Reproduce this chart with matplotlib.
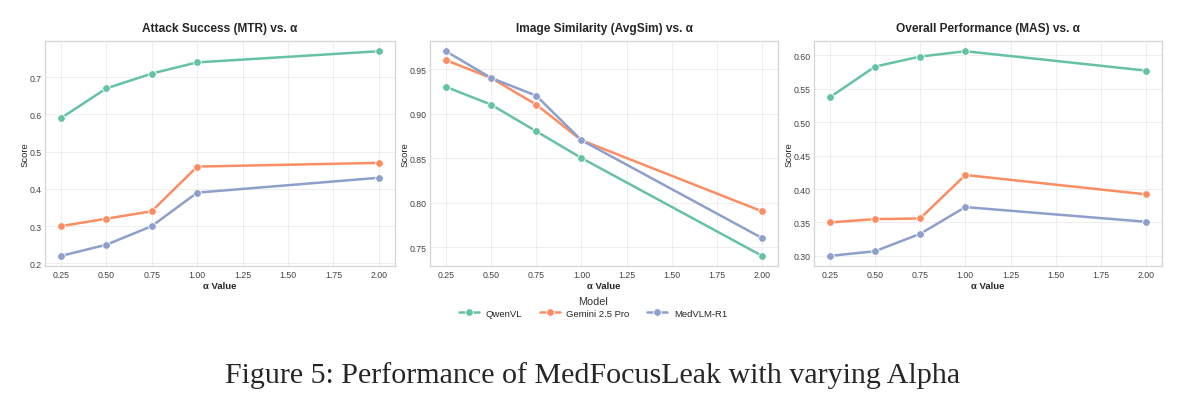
import matplotlib
matplotlib.use('Agg')
import matplotlib.pyplot as plt
import seaborn as sns

alphas = [0.25, 0.5, 0.75, 1.0, 2.0]
models = ['QwenVL', 'Gemini 2.5 Pro', 'MedVLM-R1']

# attack success (MTR)
mtr_qwen = [0.59, 0.67, 0.71, 0.74, 0.77]
mtr_gemini = [0.30, 0.32, 0.34, 0.46, 0.47]
mtr_medvlm = [0.22, 0.25, 0.30, 0.39, 0.43]

# image similarity (AvgSim)
sim_qwen = [0.93, 0.91, 0.88, 0.85, 0.74]
sim_gemini = [0.96, 0.94, 0.91, 0.87, 0.79]
sim_medvlm = [0.97, 0.94, 0.92, 0.87, 0.76]

# overall performance (MAS)
mas_qwen = [0.537, 0.583, 0.598, 0.606, 0.577]
mas_gemini = [0.350, 0.355, 0.356, 0.421, 0.392]
mas_medvlm = [0.300, 0.307, 0.333, 0.373, 0.351]

titles = ['Attack Success (MTR) vs. α', 'Image Similarity (AvgSim) vs. α',
          'Overall Performance (MAS) vs. α']
panels = [[mtr_qwen, mtr_gemini, mtr_medvlm],
          [sim_qwen, sim_gemini, sim_medvlm],
          [mas_qwen, mas_gemini, mas_medvlm]]

sns.set_style('whitegrid')
plt.rcParams['font.family'] = ['Liberation Sans', 'DejaVu Sans']
colors = sns.color_palette('Set2', 3)

fig = plt.figure(figsize=(11.86, 4.06), dpi=100)
lefts = [0.0379, 0.3626, 0.6863]
widths = [0.295, 0.2934, 0.2934]

for i in range(3):
    ax = fig.add_axes([lefts[i], 0.342, widths[i], 0.5546])
    for j in range(3):
        ax.plot(alphas, panels[i][j], color=colors[j], linewidth=1.8,
                marker='o', markersize=5.5, markeredgecolor='white',
                markeredgewidth=0.6, label=models[j])
    ax.set_title(titles[i], fontsize=8.6, fontweight='bold', color='#262626', pad=7)
    ax.set_xlabel('α Value', fontsize=6.8, fontweight='bold', color='#262626', labelpad=1.5)
    ax.set_ylabel('Score', fontsize=6.8, color='#262626', labelpad=0)
    ax.tick_params(labelsize=6.3, colors='#444444', length=0, pad=2.5)
    ax.grid(color='#ebebeb', linewidth=0.6)
    for s in ax.spines.values():
        s.set_color('#d5d5d5')
        s.set_linewidth(0.9)
    if i == 1:
        handles, labels = ax.get_legend_handles_labels()

leg = fig.legend(handles, labels, title='Model', loc='upper center',
                 bbox_to_anchor=(0.5, 0.278), ncol=3, frameon=False,
                 fontsize=6.8, title_fontsize=7.8, columnspacing=1.9,
                 handlelength=2.1, borderaxespad=0, handletextpad=0.7,
                 labelspacing=0.3)
leg.get_title().set_color('#333333')

fig.text(0.5, 0.075, 'Figure 5: Performance of MedFocusLeak with varying Alpha',
         ha='center', va='center', fontsize=21.6, family=['Liberation Serif', 'DejaVu Serif'])

fig.savefig('out.png', dpi=100)
